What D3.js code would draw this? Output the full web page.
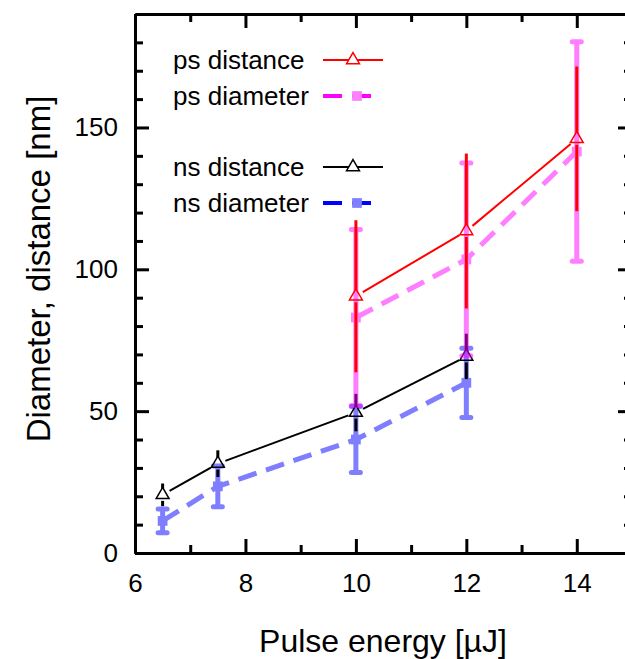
<!DOCTYPE html>
<html>
<head>
<meta charset="utf-8">
<script src="https://cdn.jsdelivr.net/npm/d3@7"></script>
<style>
  body { margin: 0; background: #fff; }
  svg { display: block; font-family: Arial, "Liberation Sans", sans-serif; }
</style>
</head>
<body>
<div id="chart"></div>
<script>
// Data
const energyNs = [6.5, 7.5, 10, 12];
const nsDistance = [20.5, 31.5, 49.5, 69.3];
const nsDistanceErr = [4, 4.7, 6.6, 8];
const nsDiameter = [11.3, 23.5, 40, 60];
const nsDiameterErr = [4.2, 7.2, 11.6, 12.2];

const energyPs = [10, 12, 14];
const psDistance = [90.5, 113.5, 146];
const psDistanceErr = [26.8, 27.3, 25.5];
const psDiameter = [83, 103.5, 141.5];
const psDiameterErr = [31, 34, 38.7];

const xMajorTicks = [6, 8, 10, 12, 14];
const xMinorTicks = [7, 9, 11, 13];
const yMajorTicks = [0, 50, 100, 150];
const yMinorTicks = [10, 20, 30, 40, 60, 70, 80, 90, 110, 120, 130, 140, 160, 170, 180];

const legendLabels = ["ps distance", "ps diameter", "ns distance", "ns diameter"];

// Layout
const width = 625, height = 659;
const margin = { left: 135, top: 14, right: -7, bottom: 106 };

const svg = d3.select("#chart").append("svg")
  .attr("width", width).attr("height", height);

const x = d3.scaleLinear().domain([6, 15]).range([margin.left, width - margin.right]);
const y = d3.scaleLinear().domain([0, 190]).range([height - margin.bottom, margin.top]);

const zip = (xs, ys, es) => xs.map((v, i) => ({ x: v, y: ys[i], e: es[i] }));
const ns = { dist: zip(energyNs, nsDistance, nsDistanceErr), diam: zip(energyNs, nsDiameter, nsDiameterErr) };
const ps = { dist: zip(energyPs, psDistance, psDistanceErr), diam: zip(energyPs, psDiameter, psDiameterErr) };

const line = d3.line().x(d => x(d.x)).y(d => y(d.y));
const tri = d3.symbol(d3.symbolTriangle, 72);
const sq = d3.symbol(d3.symbolSquare, 95);

// Solid line drawn as segments that stop short of the markers
const gappedLine = (g, data, color, w, gap) => {
  const segs = d3.pairs(data).map(([a, b]) => {
    const x1 = x(a.x), y1 = y(a.y), x2 = x(b.x), y2 = y(b.y);
    const len = Math.hypot(x2 - x1, y2 - y1);
    const ux = (x2 - x1) / len, uy = (y2 - y1) / len;
    return [x1 + ux * gap, y1 + uy * gap, x2 - ux * gap, y2 - uy * gap];
  });
  g.selectAll(null).data(segs).enter().append("line")
    .attr("x1", s => s[0]).attr("y1", s => s[1])
    .attr("x2", s => s[2]).attr("y2", s => s[3])
    .attr("stroke", color).attr("stroke-width", w);
};

// Error bars; gap (px) leaves the marker area empty
const errorBars = (g, data, color, w, capW, gap = 0) => {
  [-1, 1].forEach(s => {
    g.selectAll(null).data(data).enter().append("line")
      .attr("x1", d => x(d.x)).attr("x2", d => x(d.x))
      .attr("y1", d => y(d.y) - s * gap).attr("y2", d => y(d.y + s * d.e))
      .attr("stroke", color).attr("stroke-width", w);
    if (capW > 0) {
      g.selectAll(null).data(data).enter().append("line")
        .attr("x1", d => x(d.x) - capW / 2).attr("x2", d => x(d.x) + capW / 2)
        .attr("y1", d => y(d.y + s * d.e)).attr("y2", d => y(d.y + s * d.e))
        .attr("stroke", color).attr("stroke-width", w).attr("stroke-linecap", "round");
    }
  });
};

const plot = svg.append("g");

// ns diameter (blue, translucent)
const nsDiamG = plot.append("g").attr("opacity", 0.5);
nsDiamG.append("path").datum(ns.diam).attr("d", line)
  .attr("fill", "none").attr("stroke", "#00f").attr("stroke-width", 5).attr("stroke-dasharray", "19,10");
errorBars(nsDiamG, ns.diam, "#00f", 5, 9);
nsDiamG.selectAll(null).data(ns.diam).enter().append("path")
  .attr("transform", d => `translate(${x(d.x)},${y(d.y)})`).attr("d", sq).attr("fill", "#00f");

// ns distance (black)
errorBars(plot, ns.dist, "#000", 3, 0, 6);
gappedLine(plot, ns.dist, "#000", 2, 8);
plot.selectAll(null).data(ns.dist).enter().append("path")
  .attr("transform", d => `translate(${x(d.x)},${y(d.y)})`).attr("d", tri)
  .attr("fill", "none").attr("stroke", "#000").attr("stroke-width", 1.5);

// ps diameter (magenta, translucent)
const psDiamG = plot.append("g").attr("opacity", 0.5);
psDiamG.append("path").datum(ps.diam).attr("d", line)
  .attr("fill", "none").attr("stroke", "#f0f").attr("stroke-width", 5).attr("stroke-dasharray", "19,10");
errorBars(psDiamG, ps.diam, "#f0f", 5, 9);
psDiamG.selectAll(null).data(ps.diam).enter().append("path")
  .attr("transform", d => `translate(${x(d.x)},${y(d.y)})`).attr("d", sq).attr("fill", "#f0f");

// ps distance (red)
errorBars(plot, ps.dist, "#f00", 3, 0, 6);
gappedLine(plot, ps.dist, "#f00", 2, 8);
plot.selectAll(null).data(ps.dist).enter().append("path")
  .attr("transform", d => `translate(${x(d.x)},${y(d.y)})`).attr("d", tri)
  .attr("fill", "none").attr("stroke", "#f00").attr("stroke-width", 1.5);

// Axes - ticks point inward
const styleAxis = (g) => {
  g.select(".domain").attr("stroke-width", 3);
  g.selectAll(".tick line").attr("stroke-width", 3);
  g.selectAll("text").attr("font-size", 26).attr("fill", "#000")
    .attr("font-family", "Arial, 'Liberation Sans', sans-serif");
};
const addAxis = (axisFn, scale, transform, major, minor, labels, pad) => {
  svg.append("g").attr("transform", transform)
    .call(axisFn(scale).tickValues(minor).tickSize(-8).tickSizeOuter(0).tickFormat(""))
    .call(styleAxis);
  svg.append("g").attr("transform", transform)
    .call(axisFn(scale).tickValues(major).tickSize(-14).tickSizeOuter(0)
      .tickPadding(pad).tickFormat(labels ? d3.format("d") : ""))
    .call(styleAxis);
};
addAxis(d3.axisBottom, x, `translate(0,${y(0)})`, xMajorTicks, xMinorTicks, true, 21);
addAxis(d3.axisTop, x, `translate(0,${y(190)})`, xMajorTicks, xMinorTicks, false, 0);
addAxis(d3.axisLeft, y, `translate(${x(6)},0)`, yMajorTicks, yMinorTicks, true, 17);
addAxis(d3.axisRight, y, `translate(${x(15)},0)`, yMajorTicks, yMinorTicks, false, 0);

// Axis titles
svg.append("text")
  .attr("x", 383).attr("y", 652)
  .attr("text-anchor", "middle").attr("font-size", 32)
  .text("Pulse energy [µJ]");
svg.append("text")
  .attr("transform", "translate(50,269) rotate(-90)")
  .attr("text-anchor", "middle").attr("font-size", 33)
  .text("Diameter, distance [nm]");

// Legend
const legendRows = [
  { label: legendLabels[0], y: 60, color: "#f00", dash: null, w: 2, mark: "tri" },
  { label: legendLabels[1], y: 96, color: "#f0f", dash: "19,10", w: 4, mark: "sq", fill: "#ff80ff" },
  { label: legendLabels[2], y: 167, color: "#000", dash: null, w: 2, mark: "tri" },
  { label: legendLabels[3], y: 203, color: "#00f", dash: "19,10", w: 4, mark: "sq", fill: "#8080ff" },
];
const legend = svg.append("g");
legendRows.forEach(r => {
  legend.append("text").attr("x", 173).attr("y", r.y + 9)
    .attr("font-size", 26).text(r.label);
  legend.append("line").attr("x1", 323).attr("x2", r.dash ? 377 : 383)
    .attr("y1", r.y).attr("y2", r.y)
    .attr("stroke", r.color).attr("stroke-width", r.w)
    .attr("stroke-dasharray", r.dash);
  if (r.mark === "tri") {
    legend.append("path").attr("transform", `translate(353,${r.y})`).attr("d", tri)
      .attr("fill", "#fff").attr("stroke", r.color).attr("stroke-width", 1.5);
  } else {
    legend.append("path").attr("transform", `translate(357,${r.y})`).attr("d", sq)
      .attr("fill", r.fill);
  }
});
</script>
</body>
</html>
